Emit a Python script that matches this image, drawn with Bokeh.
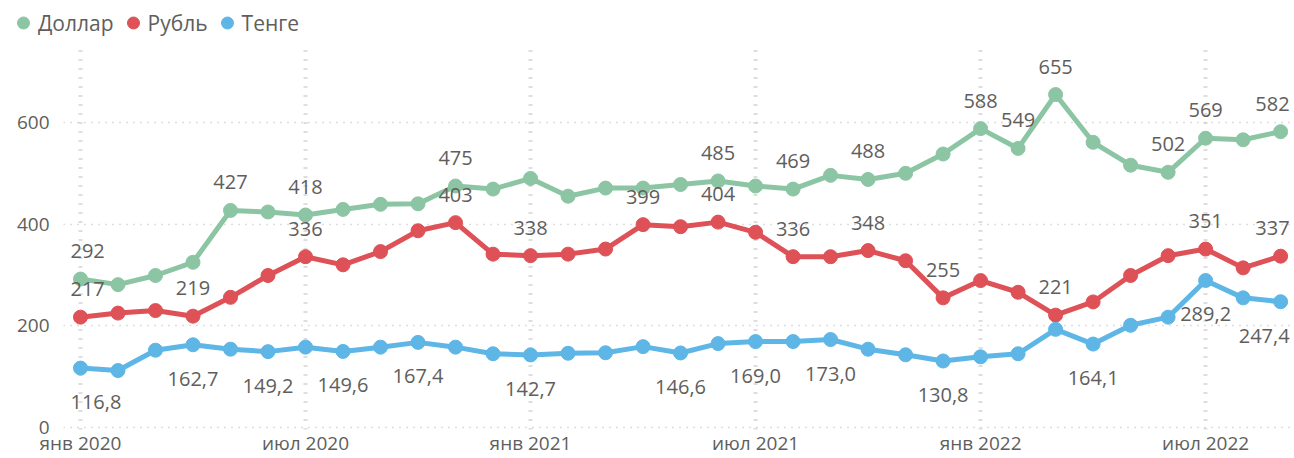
from bokeh.plotting import figure
from bokeh.models import ColumnDataSource, FixedTicker, Legend, LegendItem
from bokeh.layouts import column
from bokeh.embed import file_html
from bokeh.resources import INLINE
from bokeh.core.properties import value

# ---- data ----
months = list(range(33))  # янв 2020 .. сен 2022
tick_positions = [0, 6, 12, 18, 24, 30]
tick_labels = ["янв 2020", "июл 2020", "янв 2021", "июл 2021", "янв 2022", "июл 2022"]

dollar = [292, 281, 299, 325, 427, 424, 418, 429, 439, 440, 475, 469, 490, 455, 471, 471,
          478, 485, 475, 469, 496, 488, 500, 538, 588, 549, 655, 561, 516, 502, 569, 566, 582]
rouble = [217, 225, 230, 219, 256, 299, 336, 320, 346, 387, 403, 341, 338, 341, 351, 399,
          395, 404, 384, 336, 336, 348, 328, 255, 289, 266, 221, 247, 299, 338, 351, 314, 337]
tenge = [116.8, 112, 152, 162.7, 154, 149.2, 158, 149.6, 158, 167.4, 158, 145, 142.7, 146, 147,
         159, 146.6, 165, 169.0, 169, 173.0, 154, 143, 130.8, 139, 145, 193, 164.1, 201, 217,
         289.2, 255, 247.4]

dollar_label_idx = [0, 4, 6, 10, 17, 19, 21, 24, 25, 26, 29, 30, 32]
rouble_label_idx = [0, 3, 6, 10, 12, 15, 17, 19, 21, 23, 26, 30, 32]
tenge_label_idx = [0, 3, 5, 7, 9, 12, 16, 18, 20, 23, 27, 30, 32]

series_names = ["Доллар", "Рубль", "Тенге"]
series_colors = ["#8CC5A3", "#DD5157", "#5DB6E6"]

# ---- styling ----
FONT = "Open Sans"
TXT = "#605E5C"
FS_AXIS = "19px"
FS_LABEL = "20px"
FS_LEGEND = "21px"

# legend strip on top
lg = figure(width=1294, height=45, x_range=(0, 1), y_range=(0, 1),
            output_backend="svg", toolbar_location=None,
            min_border_left=0, min_border_right=0, min_border_top=0, min_border_bottom=0)
lg.axis.visible = False
lg.grid.visible = False
lg.outline_line_color = None
lg.frame_align = False

p = figure(width=1294, height=413, x_range=(-0.453, 32.37), y_range=(-4, 751.5),
           output_backend="svg", toolbar_location=None,
           min_border_left=63, min_border_right=0, min_border_top=0, min_border_bottom=10)
p.outline_line_color = None
p.background_fill_color = "white"
p.border_fill_color = "white"
p.frame_align = False

p.xaxis.ticker = FixedTicker(ticks=tick_positions)
p.xaxis.major_label_overrides = {t: l for t, l in zip(tick_positions, tick_labels)}
p.yaxis.ticker = FixedTicker(ticks=[0, 200, 400, 600])
for ax in (p.xaxis, p.yaxis):
    ax.axis_line_color = None
    ax.major_tick_line_color = None
    ax.minor_tick_line_color = None
    ax.major_tick_out = 0
    ax.major_tick_in = 0
    ax.minor_tick_out = 0
    ax.major_label_text_font = FONT
    ax.major_label_text_font_size = FS_AXIS
    ax.major_label_text_color = TXT
p.xaxis.major_label_standoff = 0
p.yaxis.major_label_standoff = 14

p.xgrid.ticker = FixedTicker(ticks=tick_positions)
p.xgrid.grid_line_color = "#BDBDBD"
p.xgrid.grid_line_width = 4
p.xgrid.grid_line_dash = "1 8"
p.ygrid.grid_line_color = "#BDBDBD"
p.ygrid.grid_line_width = 1.5
p.ygrid.grid_line_dash = "1 6"

all_series = [dollar, rouble, tenge]
all_label_idx = [dollar_label_idx, rouble_label_idx, tenge_label_idx]
label_offsets = [-28, -28, 34]

legend_items = []
for name, vals, color, lidx, yoff in zip(series_names, all_series, series_colors, all_label_idx, label_offsets):
    src = ColumnDataSource(dict(x=months, y=vals))
    p.line("x", "y", source=src, line_color=color, line_width=5, line_join="round")
    p.scatter("x", "y", source=src, size=14, fill_color=color, line_color=color)
    # legend-only marker, outside the visible range of the legend strip
    dummy = lg.scatter(x=[-5], y=[-5], size=14, fill_color=color, line_color=color)
    legend_items.append(LegendItem(label=name, renderers=[dummy]))

    lx = [months[i] for i in lidx]
    ly = [vals[i] for i in lidx]
    if isinstance(vals[0], float):
        txt = [f"{vals[i]:.1f}".replace(".", ",") for i in lidx]
    else:
        txt = [str(vals[i]) for i in lidx]
    align = ["left" if i == 0 else ("right" if i == len(vals) - 1 else "center") for i in lidx]
    xoff = [-10 if i == 0 else (9 if i == len(vals) - 1 else 0) for i in lidx]
    lsrc = ColumnDataSource(dict(x=lx, y=ly, t=txt, a=align, xo=xoff))
    p.text("x", "y", text="t", source=lsrc, text_align="a", x_offset="xo", y_offset=yoff,
           text_baseline="middle", text_font=value(FONT), text_font_size=FS_LABEL, text_color=TXT)

legend = Legend(items=legend_items, orientation="horizontal", location=(8, 6),
                label_text_font=FONT, label_text_font_size=FS_LEGEND, label_text_color=TXT,
                glyph_width=30, glyph_height=33, label_standoff=0, spacing=4,
                padding=0, margin=0, border_line_color=None, background_fill_alpha=0)
lg.add_layout(legend, "center")

layout = column(lg, p, spacing=0)
open("out.html", "w").write(file_html(layout, INLINE))
